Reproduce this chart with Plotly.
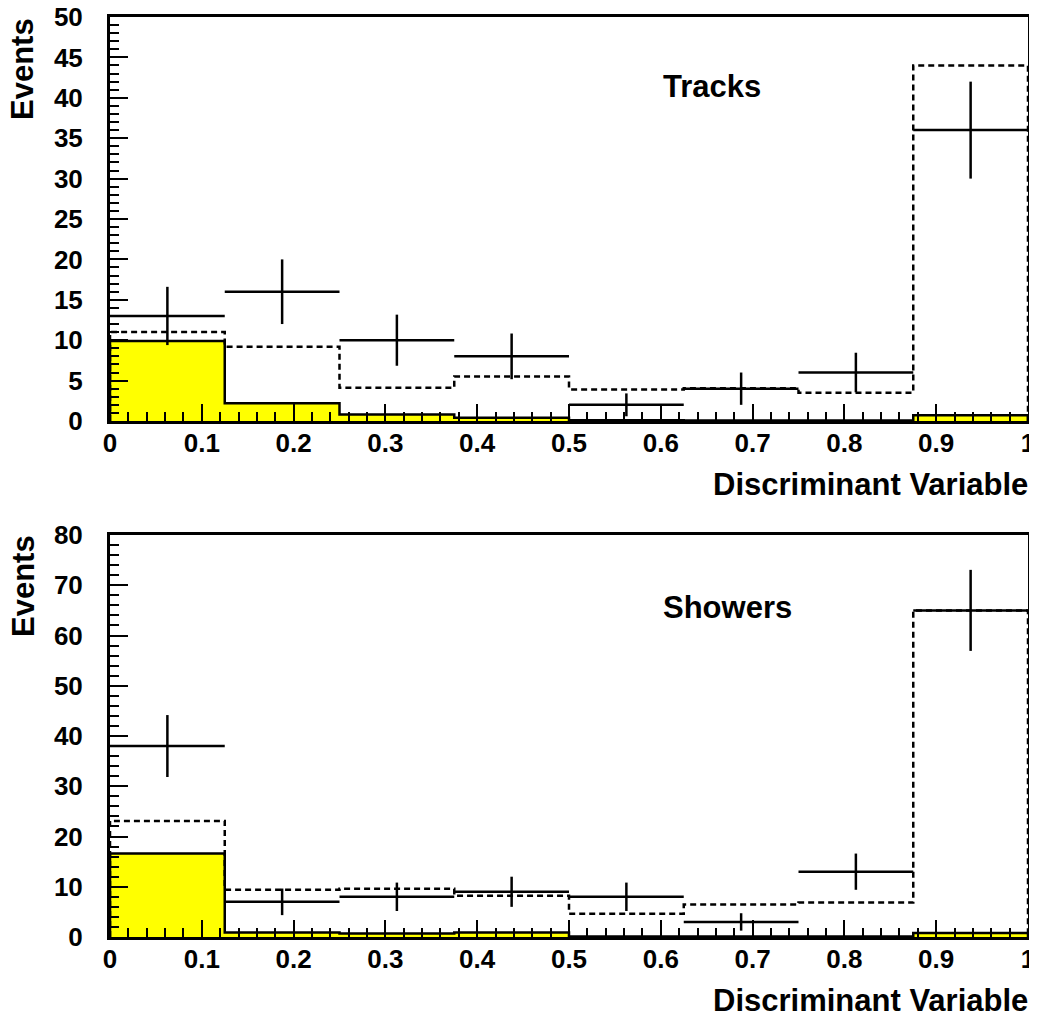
import numpy as np
import plotly.graph_objects as go

# ---- data ----
bin_edges = [0, 0.125, 0.25, 0.375, 0.5, 0.625, 0.75, 0.875, 1.0]

tracks_data = [13, 16, 10, 8, 2, 4, 6, 36]
tracks_mc = [11.0, 9.2, 4.1, 5.5, 3.9, 4.05, 3.5, 44.0]
tracks_bkg = [9.9, 2.2, 0.8, 0.4, 0.1, 0.05, 0.05, 0.7]

showers_data = [38, 7, 8, 9, 8, 3, 13, 65]
showers_mc = [23.1, 9.4, 9.6, 8.2, 4.65, 6.45, 6.85, 65.0]
showers_bkg = [16.6, 0.9, 0.7, 0.9, 0.1, 0.1, 0.1, 0.8]

panel_labels = ["Tracks", "Showers"]
x_title = "Discriminant Variable"
y_title = "Events"
x_ticks = [0, 0.1, 0.2, 0.3, 0.4, 0.5, 0.6, 0.7, 0.8, 0.9, 1]
y_ticks_top = [0, 5, 10, 15, 20, 25, 30, 35, 40, 45, 50]
y_ticks_bot = [0, 10, 20, 30, 40, 50, 60, 70, 80]

W, H = 1037, 1015
OFF = 8  # default page body margin
FW, FH = W - OFF, H - OFF
FONT = "Liberation Sans, Arial, Helvetica, sans-serif"


def px_x(p):
    return (p - OFF) / FW


def px_y(p):
    return 1 - (p - OFF) / FH


fig = go.Figure()

edges = np.array(bin_edges)
centers = (edges[:-1] + edges[1:]) / 2
halfw = (edges[1:] - edges[:-1]) / 2


def step_xy(vals):
    xs = [edges[0]] + list(edges)
    ys = [0] + list(vals) + [vals[-1]]
    xs = xs + [edges[-1]]
    ys = ys + [0]
    return xs, ys


panels = [
    (tracks_data, tracks_mc, tracks_bkg, "x", "y"),
    (showers_data, showers_mc, showers_bkg, "x2", "y2"),
]

LW = 2.5
for data, mc, bkg, xa, ya in panels:
    bx, by = step_xy(bkg)
    fig.add_trace(go.Scatter(
        x=bx, y=by, mode="lines", line=dict(color="black", width=LW, shape="hv"),
        fill="tozeroy", fillcolor="#FFFF00", xaxis=xa, yaxis=ya, showlegend=False,
        hoverinfo="skip"))
    mx, my = step_xy(mc)
    fig.add_trace(go.Scatter(
        x=mx, y=my, mode="lines",
        line=dict(color="black", width=LW, shape="hv", dash="6px,4px"),
        xaxis=xa, yaxis=ya, showlegend=False, hoverinfo="skip"))
    fig.add_trace(go.Scatter(
        x=centers, y=data, mode="markers", marker=dict(size=1, color="black"),
        error_x=dict(type="data", array=halfw, width=0, thickness=LW, color="black"),
        error_y=dict(type="data", array=np.sqrt(np.array(data, dtype=float)),
                     width=0, thickness=LW, color="black"),
        xaxis=xa, yaxis=ya, showlegend=False))

# panel geometry (page pixels)
left, right = 110, 1028
top1, bot1 = 17, 421
top2, bot2 = 535, 937

tickfont = dict(family=FONT, size=26, color="black", weight="bold")

common_x = dict(range=[0, 1], tickvals=x_ticks, ticks="inside", ticklen=17,
                tickwidth=2, tickcolor="black", showline=True, linewidth=3,
                linecolor="black", mirror=True, showgrid=False, zeroline=False,
                tickfont=tickfont, ticklabelstandoff=-3, automargin=False,
                ticklabeloverflow="allow",
                minor=dict(dtick=0.02, ticks="inside", ticklen=9,
                           tickwidth=2, tickcolor="black", showgrid=False))
common_y = dict(ticks="inside", ticklen=18, tickwidth=2, tickcolor="black",
                showline=True, linewidth=3, linecolor="black", mirror=True,
                showgrid=False, zeroline=False, tickfont=tickfont,
                ticklabelstandoff=19, automargin=False,
                ticklabeloverflow="allow")

fig.update_layout(
    width=FW, height=FH, margin=dict(l=0, r=0, t=0, b=0, autoexpand=False),
    plot_bgcolor="white", paper_bgcolor="white",
    xaxis=dict(domain=[px_x(left), px_x(right)], anchor="y", **common_x),
    yaxis=dict(domain=[px_y(bot1), px_y(top1)], anchor="x", range=[0, 50],
               tickvals=y_ticks_top,
               minor=dict(dtick=1, ticks="inside", ticklen=9, tickwidth=2,
                          tickcolor="black", showgrid=False),
               **common_y),
    xaxis2=dict(domain=[px_x(left), px_x(right)], anchor="y2", **common_x),
    yaxis2=dict(domain=[px_y(bot2), px_y(top2)], anchor="x2", range=[0, 80],
                tickvals=y_ticks_bot,
                minor=dict(dtick=2, ticks="inside", ticklen=9, tickwidth=2,
                           tickcolor="black", showgrid=False),
                **common_y),
)

titlefont = dict(family=FONT, size=31, color="black", weight="bold")
annots = []
for lab, ty in zip(panel_labels, [86, 607]):
    annots.append(dict(text=lab, x=px_x(661), y=px_y(ty), xref="paper", yref="paper",
                       xanchor="left", yanchor="middle", showarrow=False, font=titlefont))
for ty in [484, 1000]:
    annots.append(dict(text=x_title, x=px_x(1030), y=px_y(ty), xref="paper", yref="paper",
                       xanchor="right", yanchor="middle", showarrow=False, font=titlefont))
for ty in [16, 533]:
    annots.append(dict(text=y_title, x=px_x(23), y=px_y(ty), xref="paper", yref="paper",
                       xanchor="center", yanchor="top", textangle=-90, showarrow=False,
                       font=titlefont))
fig.update_layout(annotations=annots)

fig.write_html("out.html")
